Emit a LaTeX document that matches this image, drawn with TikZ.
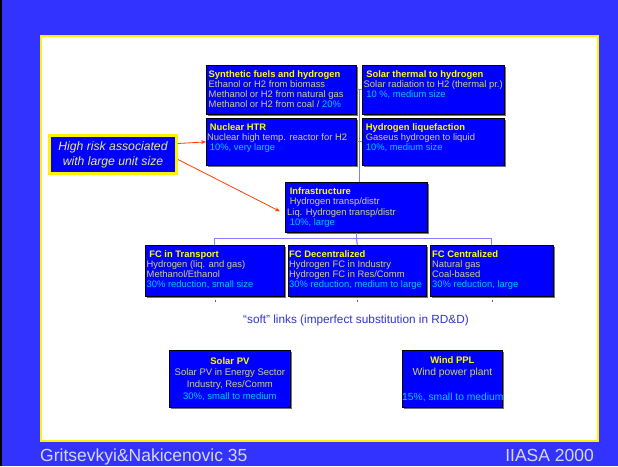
\documentclass[tikz,border=0pt]{standalone}
\usepackage{fontspec}
\setmainfont{Liberation Sans}
\usetikzlibrary{shadows,arrows.meta,calc}
\definecolor{bg}{RGB}{51,51,255}
\definecolor{boxblue}{RGB}{0,0,255}
\definecolor{ttl}{RGB}{255,255,0}
\definecolor{bodyc}{RGB}{212,212,115}
\definecolor{pct}{RGB}{0,204,255}
\definecolor{linkc}{RGB}{128,128,255}
\definecolor{riskc}{RGB}{255,60,0}
\definecolor{footc}{RGB}{215,215,235}
\definecolor{softc}{RGB}{51,51,204}
\definecolor{riskt}{RGB}{235,235,120}
\newcommand{\bxtitle}[1]{{\color{ttl}\bfseries #1}}
\newcommand{\bxpct}[1]{{\color{pct}#1}}
\begin{document}
\begin{tikzpicture}[x=1pt,y=-1pt,
  box/.style={draw=black, line width=0.8pt, fill=boxblue, anchor=north west, inner sep=0pt,
    drop shadow={shadow xshift=1.5pt, shadow yshift=-1.5pt, fill=black!55, opacity=1}},
  txt/.style={anchor=north west, inner sep=0pt, align=left,
    font=\fontsize{9.4}{10.3}\selectfont, text=bodyc},
  conn/.style={draw=linkc, line width=1.1pt},
  redarr/.style={draw=riskc, line width=0.8pt, -{Stealth[length=5pt,width=4pt]}},
  tick/.style={draw=black!60, line width=0.8pt},
]
\useasboundingbox (0,0) rectangle (618,466);
\fill[bg] (0,0) rectangle (618,466);
\fill[black] (0,0) rectangle (2,466);
\draw[yellow, line width=2pt, fill=white] (41,36) rectangle (598,441);

% boxes
\node[box, minimum width=150pt, minimum height=49pt] (syn) at (206,65) {};
\node[box, minimum width=142pt, minimum height=49pt] (sol) at (362,65) {};
\node[box, minimum width=150pt, minimum height=47pt] (nuc) at (206,118) {};
\node[box, minimum width=142pt, minimum height=47pt] (liq) at (362,118) {};
\node[box, minimum width=142pt, minimum height=50pt] (infra) at (285,182) {};
\node[box, minimum width=139pt, minimum height=51pt] (fct) at (145,245) {};
\node[box, minimum width=138pt, minimum height=51pt] (fcd) at (288,245) {};
\node[box, minimum width=123pt, minimum height=51pt] (fcc) at (430,245) {};
\node[box, minimum width=121pt, minimum height=57pt] (pv) at (169,350) {};
\node[box, minimum width=100pt, minimum height=57pt] (wind) at (402,350) {};
\node[draw=yellow, line width=3pt, fill=boxblue, anchor=north west, inner sep=0pt,
  minimum width=127pt, minimum height=38pt] (risk) at (48,134) {};

% connectors
\draw[conn] (syn.east) -- (sol.west);
\draw[conn] (nuc.east) -- (liq.west);
\coordinate (top) at ($(syn.east)!0.5!(sol.west)$);
\draw[conn] (top) -- (top |- infra.north);
\draw[conn] (infra.south) -- ++(0,6) coordinate (bus);
\draw[conn] (fct.north) |- (bus) -| (fcc.north);
\draw[conn] (bus) -- (fcd.north);
\draw[tick] ([yshift=-3pt]fct.south) -- ++(0,2);
\draw[tick] ([yshift=-3pt]fcd.south) -- ++(0,2);
\draw[tick] ([yshift=-3pt]fcc.south) -- ++(0,2);
\draw[redarr] ([yshift=11pt]risk.east) -- (nuc.west);
\draw[redarr] ([yshift=-5pt]risk.east) -- ([xshift=-5pt,yshift=-4pt]infra.west);

% texts
\node[txt] (syn-t) at ([xshift=2.5pt,yshift=-5pt]syn.north west)
  {\bxtitle{Synthetic fuels and hydrogen}\\Ethanol or H2 from biomass\\Methanol or H2 from natural gas\\Methanol or H2 from coal / \bxpct{20\%}};
\node[txt] (sol-t) at ([xshift=1.5pt,yshift=-5pt]sol.north west)
  {\bxtitle{\ Solar thermal to hydrogen}\\Solar radiation to H2 (thermal pr.)\\\bxpct{\ 10 \%, medium size}};
\node[txt] (nuc-t) at ([xshift=1pt,yshift=-5pt]nuc.north west)
  {\bxtitle{\ Nuclear HTR}\\Nuclear high temp. reactor for H2\\\bxpct{\ 10\%, very large}};
\node[txt] (liq-t) at ([xshift=1pt,yshift=-5pt]liq.north west)
  {\bxtitle{\ Hydrogen liquefaction}\\\ Gaseus hydrogen to liquid\\\bxpct{\ 10\%, medium size}};
\node[txt, font=\fontsize{9.4}{10.6}\selectfont] (infra-t) at ([xshift=2pt,yshift=-5pt]infra.north west)
  {\bxtitle{\ Infrastructure}\\\ Hydrogen transp/distr\\Liq. Hydrogen transp/distr\\\bxpct{\ 10\%, large}};
\node[txt] (fct-t) at ([xshift=1.5pt,yshift=-5pt]fct.north west)
  {\bxtitle{\ FC in Transport}\\Hydrogen (liq. and gas)\\Methanol/Ethanol\\\bxpct{30\% reduction, small size}};
\node[txt] (fcd-t) at ([xshift=1pt,yshift=-5pt]fcd.north west)
  {\bxtitle{FC Decentralized}\\Hydrogen FC in Industry\\Hydrogen FC in Res/Comm\\\bxpct{30\% reduction, medium to large}};
\node[txt] (fcc-t) at ([xshift=2pt,yshift=-5pt]fcc.north west)
  {\bxtitle{FC Centralized}\\Natural gas\\Coal-based\\\bxpct{30\% reduction, large}};
\node[txt, anchor=center, align=center, font=\fontsize{9.5}{11.8}\selectfont] (pv-t) at (pv.center)
  {\bxtitle{Solar PV}\\Solar PV in Energy Sector\\Industry, Res/Comm\\\bxpct{30\%, small to medium}};
\node[txt, anchor=north, align=center, font=\fontsize{10.3}{12.5}\selectfont] (wind-t) at ([yshift=-6pt]wind.north)
  {{\fontsize{9.5}{11}\selectfont\bxtitle{Wind PPL}}\\Wind power plant};
\node[txt, anchor=west, text=pct, font=\fontsize{10.3}{12}\selectfont] (wind-p) at ([yshift=-18.5pt]wind.west)
  {15\%, small to medium};
\node[inner sep=0pt, align=center, text=riskt, font=\fontsize{12.2}{15}\selectfont\itshape] (risk-t) at (risk.center)
  {High risk associated\\with large unit size};
\node[inner sep=0pt, text=softc, font=\fontsize{11.8}{14}\selectfont] (soft) at (356,320)
  {“soft” links (imperfect substitution in RD\&D)};
\node[anchor=base west, inner sep=0pt, text=footc, font=\fontsize{17.5}{20}\selectfont] (ft1) at (40,461)
  {Gritsevkyi\&Nakicenovic 35};
\node[anchor=base east, inner sep=0pt, text=footc, font=\fontsize{17.5}{20}\selectfont] (ft2) at (594,461)
  {IIASA 2000};
\end{tikzpicture}
\end{document}
